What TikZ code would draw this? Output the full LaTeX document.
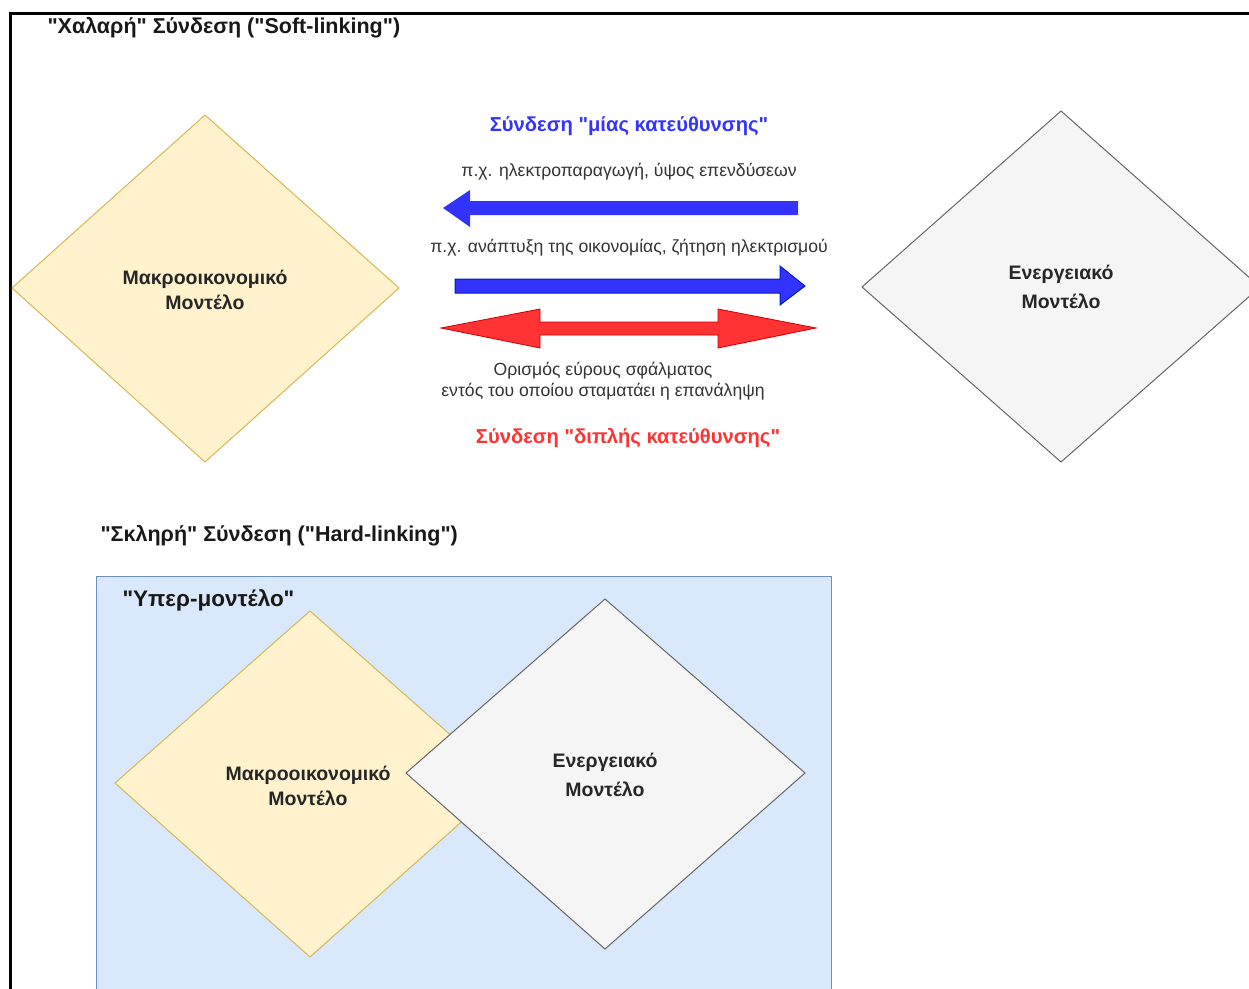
\documentclass[tikz,border=0pt]{standalone}
\usepackage{fontspec}
\setmainfont{Liberation Sans}[Ligatures=TeXOff]
\begin{document}
\begin{tikzpicture}[x=1pt,y=-1pt,
  yel/.style={fill=yellowfill, draw=yellowline, line width=1pt},
  gry/.style={fill=greyfill, draw=greyline, line width=1pt},
  lbl/.style={font=\fontsize{19.5}{25}\selectfont\bfseries, text=black!85, align=center},
  lble/.style={font=\fontsize{19.5}{29}\selectfont\bfseries, text=black!85, align=center},
  head/.style={font=\fontsize{21.5}{25}\selectfont\bfseries, anchor=west, text=black!90},
  small/.style={font=\fontsize{17.6}{21}\selectfont, text=darktext, align=center},
]
\definecolor{yellowfill}{HTML}{FFF2CC}
\definecolor{yellowline}{HTML}{D6B656}
\definecolor{greyfill}{HTML}{F5F5F5}
\definecolor{greyline}{HTML}{666666}
\definecolor{bluefill}{HTML}{DAE8FC}
\definecolor{blueline}{HTML}{6C8EBF}
\definecolor{arrblue}{HTML}{3333FF}
\definecolor{arrbluedark}{HTML}{001DBC}
\definecolor{arrred}{HTML}{FF3333}
\definecolor{arrreddark}{HTML}{CC0000}
\definecolor{darktext}{HTML}{333333}
\fill[white] (0,0) rectangle (1249,988);
\useasboundingbox (0,0) rectangle (1249,988);
\begin{scope}
\clip (0,0) rectangle (1249,988);
% frame
\draw[line width=3pt] (10,1000) -- (10,13) -- (1260,13);
\node[head] (t1) at (44,28) {"Χαλαρή" Σύνδεση ("Soft-linking")};
% top diamonds
\path[yel] (205,115) -- (399,288) -- (205,462) -- (12,288) -- cycle;
\node[lbl] (m1) at (205,290) {Μακροοικονομικό\\Μοντέλο};
\path[gry] (1061,111) -- (1260,287) -- (1061,462) -- (862,287) -- cycle;
\node[lble] (e1) at (1061,287) {Ενεργειακό\\Μοντέλο};
% arrows
\node[font=\fontsize{20.2}{24}\selectfont\bfseries, text=arrblue] (oneway) at (629,126) {Σύνδεση "μίας κατεύθυνσης"};
\node[small] (ex1) at (629,172) {π.χ. ηλεκτροπαραγωγή, ύψος επενδύσεων};
\fill[arrblue] (798,201) -- (470,201) -- (470,190) -- (443,208) -- (470,227) -- (470,215) -- (798,215) -- cycle;
\node[small] (ex2) at (629,248) {π.χ. ανάπτυξη της οικονομίας, ζήτηση ηλεκτρισμού};
\draw[fill=arrblue, draw=arrbluedark, line width=1pt] (455,279) -- (780,279) -- (780,266) -- (805,286) -- (780,305) -- (780,293) -- (455,293) -- cycle;
\draw[fill=arrred, draw=arrreddark, line width=0.8pt] (441,328) -- (540,309) -- (540,322) -- (718,322) -- (718,309) -- (816,328) -- (718,348) -- (718,335) -- (540,335) -- (540,348) -- cycle;
\node[small] (err) at (603,381) {Ορισμός εύρους σφάλματος\\εντός του οποίου σταματάει η επανάληψη};
\node[font=\fontsize{20.2}{24}\selectfont\bfseries, text=arrred] (twoway) at (628,438) {Σύνδεση "διπλής κατεύθυνσης"};
% hard linking
\node[head] (t2) at (97,536) {"Σκληρή" Σύνδεση ("Hard-linking")};
\path[fill=bluefill, draw=blueline, line width=1pt] (96,1000) -- (96,576) -- (831,576) -- (831,1000);
\node[head, font=\fontsize{22.5}{26}\selectfont\bfseries] (t3) at (119,600) {"Υπερ-μοντέλο"};
\path[yel] (310,611) -- (505,783) -- (310,957) -- (115,783) -- cycle;
\node[lbl] (m2) at (308,786) {Μακροοικονομικό\\Μοντέλο};
\path[gry] (605,599) -- (805,773) -- (605,949) -- (406,773) -- cycle;
\node[lble] (e2) at (605,775) {Ενεργειακό\\Μοντέλο};
\end{scope}
\end{tikzpicture}
\end{document}
